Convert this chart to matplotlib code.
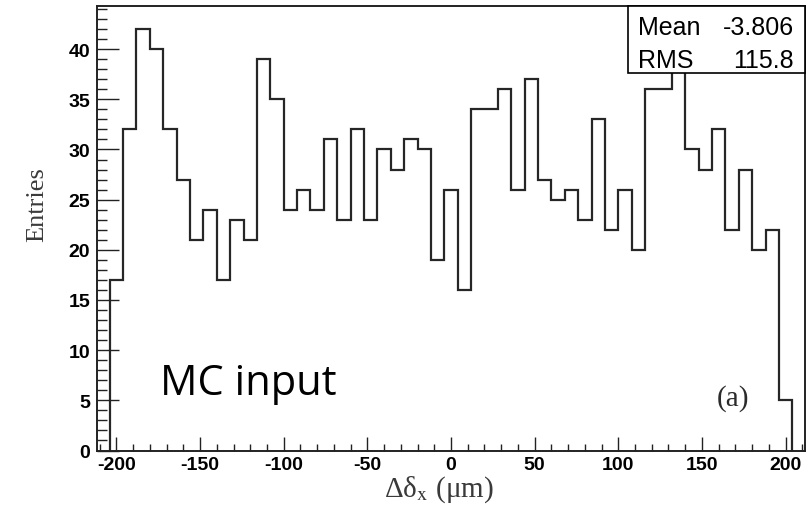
import numpy as np
import matplotlib.pyplot as plt
from matplotlib.patches import Rectangle
from matplotlib.ticker import MultipleLocator

# histogram contents, 51 bins of 8 um from -204 to 204
counts = [17, 32, 42, 40, 32, 27, 21, 24, 17, 23,
          21, 39, 35, 24, 26, 24, 31, 23, 32, 23,
          30, 28, 31, 30, 19, 26, 16, 34, 34, 36,
          26, 37, 27, 25, 26, 23, 33, 22, 26, 20,
          36, 36, 39, 30, 28, 32, 22, 28, 20, 22, 5]
x_lo, x_hi = -204, 204
stat_names = ["Mean", "RMS"]
stat_values = ["-3.806", "115.8"]

edges = np.linspace(x_lo, x_hi, len(counts) + 1)

plt.rcParams['mathtext.fontset'] = 'stix'
plt.rcParams['axes.unicode_minus'] = False
fig = plt.figure(figsize=(8.1, 5.06), dpi=100)
ax = fig.add_axes([97/810, 1 - 451.5/506, 708/810, 444.5/506])

ax.stairs(counts, edges, color="#262626", lw=1.6, baseline=0)

ax.set_xlim(-211.6, 211.6)
ax.set_ylim(0, 44.3)

ax.xaxis.set_major_locator(MultipleLocator(50))
ax.xaxis.set_minor_locator(MultipleLocator(10))
ax.yaxis.set_major_locator(MultipleLocator(5))
ax.yaxis.set_minor_locator(MultipleLocator(1))
ax.tick_params(axis="both", which="both", direction="in", top=False, right=False, width=1, color="#222")
ax.tick_params(axis="y", which="major", length=16, pad=5)
ax.tick_params(axis="y", which="minor", length=7)
ax.tick_params(axis="x", which="major", length=10, pad=4)
ax.tick_params(axis="x", which="minor", length=5)
for lab in ax.get_xticklabels() + ax.get_yticklabels():
    lab.set_fontfamily("Liberation Sans")
    lab.set_fontweight("bold")
    lab.set_fontsize(14)
for sp in ax.spines.values():
    sp.set_linewidth(1.4)
    sp.set_color("#222")

fig.text(37/810, 1 - 205/506, "Entries", family="Liberation Serif", fontsize=19,
         color="#3a3a3a", rotation=90, ha="center", va="center")
fig.text(438.7/810, 1 - 497/506, "Δδ$_{\\mathrm{x}}$ (μm)", family="Liberation Serif",
         fontsize=21, color="#3a3a3a", ha="center", va="baseline")

# stats box
ax.add_patch(Rectangle((0.75, 0.849), 0.25, 0.151, transform=ax.transAxes,
                       fc="white", ec="black", lw=1.2, zorder=5, clip_on=False))
for i, (n, v) in enumerate(zip(stat_names, stat_values)):
    y = 0.937 - i * 0.074
    ax.text(0.764, y, n, transform=ax.transAxes, family="Liberation Sans", fontsize=18,
            va="baseline", ha="left", zorder=6)
    ax.text(0.9845, y, v, transform=ax.transAxes, family="Liberation Sans", fontsize=18,
            va="baseline", ha="right", zorder=6)

ax.text(0.089, 0.127, "MC input", transform=ax.transAxes, family="Open Sans", fontsize=30,
        va="baseline", ha="left")
ax.text(0.898, 0.12, "(a)", transform=ax.transAxes, family="Liberation Serif", fontsize=21,
        va="center", ha="center", color="#2b2b2b")

fig.savefig("out.png", dpi=100)
